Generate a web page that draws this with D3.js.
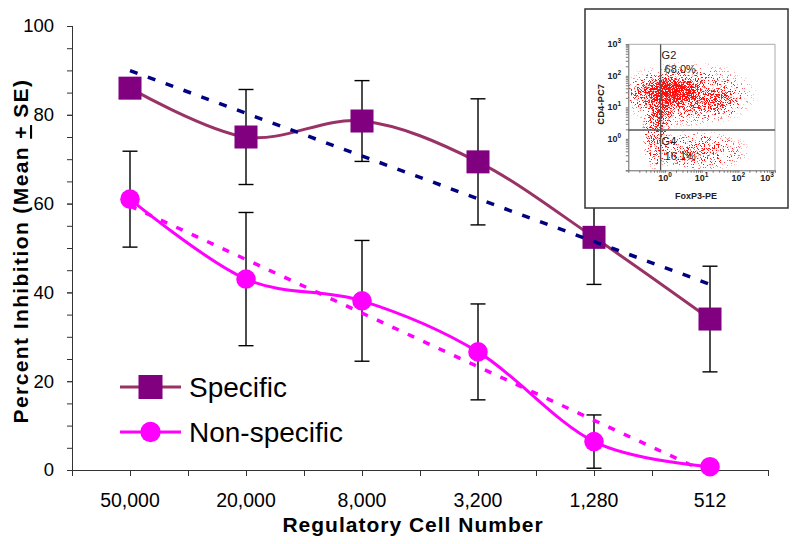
<!DOCTYPE html>
<html>
<head>
<meta charset="utf-8">
<script src="https://cdn.jsdelivr.net/npm/d3@7"></script>
<style>
  body { margin: 0; background: #fff; }
  svg { display: block; font-family: "Liberation Sans", Arial, sans-serif; }
</style>
</head>
<body>
<div id="chart"></div>
<script>
// ---- data ----
const categories = ["50,000", "20,000", "8,000", "3,200", "1,280", "512"];
const specificMean = [86, 75, 78.6, 69.4, 52.4, 34];
const specificSE = [1, 10.7, 9.1, 14.2, 10.6, 11.9];
const nonSpecificMean = [61, 43, 38.1, 26.6, 6.4, 0.75];
const nonSpecificSE = [10.8, 15, 13.6, 10.8, 6, 0.5];
const yTicks = [0, 20, 40, 60, 80, 100];

// inset flow plot (log10 decades)
const flowDecades = [0, 1, 2, 3];
const clusterFox = [0.15, 0.1, 0.6, 1.5, -0.25, 0.9, -0.1];
const clusterCD4 = [1.5, 1.45, 1.4, 1.2, 0.2, -0.4, 0.75];
const clusterFoxSpread = [0.8, 1.2, 2.0, 0.7, 0.4, 1.5, 0.4];
const clusterCD4Spread = [0.45, 0.7, 1.1, 0.5, 1.3, 0.7, 0.6];
const clusterDensity = [1.0, 0.8, 0.5, 0.5, 0.55, 0.45, 0.5];
const gateFox = 0.76;
const gateCD4 = 1.9;
const gateLabels = [{ name: "G2", pct: "68.0%" }, { name: "G4", pct: "16.1%" }];

const wSvg = 800, hSvg = 544;
const pLeft = 72, pRight = 768, pTop = 26, pBottom = 470;

const svg = d3.select("#chart").append("svg")
    .attr("width", wSvg)
    .attr("height", hSvg);

const defs = svg.append("defs");
defs.append("clipPath").attr("id", "plotClip")
    .append("rect")
    .attr("x", pLeft).attr("y", pTop)
    .attr("width", pRight - pLeft).attr("height", pBottom - pTop);

// Scales
const xScale = d3.scaleBand(categories, [pLeft, pRight]);
const xCenter = i => xScale(categories[i]) + xScale.bandwidth() / 2;
const yScale = d3.scaleLinear([0, 100], [pBottom, pTop]);

// Y axis: minor ticks every 5, labels every 20
svg.append("g")
    .attr("transform", `translate(${pLeft},0)`)
    .call(d3.axisLeft(yScale).tickValues(d3.range(0, 101, 5)).tickSize(5).tickFormat(""))
    .call(g => g.selectAll("line").attr("stroke", "#333"));
const yAxis = svg.append("g")
    .attr("transform", `translate(${pLeft},0)`)
    .call(d3.axisLeft(yScale).tickValues(yTicks).tickSize(5).tickPadding(13));
yAxis.selectAll("text").attr("font-size", 18.5).attr("fill", "#000")
    .attr("font-family", "Liberation Sans, Arial, sans-serif");
yAxis.selectAll("line").attr("stroke", "#333");
yAxis.select(".domain").attr("stroke", "#333");

// X axis: labels at band centres, ticks at every half band
const halfScale = d3.scaleLinear([0, categories.length], [pLeft, pRight]);
svg.append("g")
    .attr("transform", `translate(0,${pBottom})`)
    .call(d3.axisBottom(halfScale).tickValues(d3.range(0, categories.length + 0.01, 0.5)).tickSize(6).tickFormat("").tickSizeOuter(0))
    .call(g => g.selectAll("line").attr("stroke", "#333"))
    .call(g => g.select(".domain").attr("stroke", "#333"));
const xAxis = svg.append("g")
    .attr("transform", `translate(0,${pBottom})`)
    .call(d3.axisBottom(xScale).tickSize(0).tickPadding(23));
xAxis.select(".domain").remove();
xAxis.selectAll("text").attr("font-size", 19.5).attr("fill", "#000")
    .attr("font-family", "Liberation Sans, Arial, sans-serif");

// Axis titles
svg.append("text")
    .attr("x", 413).attr("y", 532)
    .attr("text-anchor", "middle")
    .attr("font-size", 21).attr("font-weight", "bold")
    .attr("letter-spacing", 1)
    .text("Regulatory Cell Number");

const yTitle = svg.append("text")
    .attr("transform", "translate(28,251) rotate(-90)")
    .attr("text-anchor", "middle")
    .attr("font-size", 21).attr("font-weight", "bold")
    .attr("letter-spacing", 1.4);
yTitle.append("tspan").text("Percent Inhibition (Mean  ");
yTitle.append("tspan").attr("text-decoration", "underline").text("+");
yTitle.append("tspan").text(" SE)");

const series = [
    { name: "Specific", mean: specificMean, se: specificSE, line: "#993366", marker: "#800080", trend: "#000080", shape: "square" },
    { name: "Non-specific", mean: nonSpecificMean, se: nonSpecificSE, line: "#ff00ff", marker: "#ff00ff", trend: "#ff00ff", shape: "circle" }
];

// Error bars
for (let s of series) {
    const eb = svg.append("g").attr("stroke", "#000").attr("stroke-width", 1.4);
    s.mean.forEach((m, i) => {
        const x = xCenter(i);
        const y1 = yScale(m + s.se[i]);
        const y2 = yScale(Math.max(0, m - s.se[i]));
        eb.append("line").attr("x1", x).attr("x2", x).attr("y1", y1).attr("y2", y2);
        eb.append("line").attr("x1", x - 7.5).attr("x2", x + 7.5).attr("y1", y1).attr("y2", y1);
        if (m - s.se[i] > 0) {
            eb.append("line").attr("x1", x - 7.5).attr("x2", x + 7.5).attr("y1", y2).attr("y2", y2);
        }
    });
}

// Smoothed lines
const smooth = d3.line()
    .x((d, i) => xCenter(i))
    .y(d => yScale(d))
    .curve(d3.curveCardinal.tension(0));
for (let s of series) {
    svg.append("path")
        .attr("d", smooth(s.mean))
        .attr("fill", "none")
        .attr("stroke", s.line)
        .attr("stroke-width", 3);
}

function drawMarker(g, shape, x, y, color, size) {
    if (shape === "square") {
        g.append("rect")
            .attr("x", x - size / 2).attr("y", y - size / 2)
            .attr("width", size).attr("height", size)
            .attr("fill", color);
    } else {
        g.append("circle")
            .attr("cx", x).attr("cy", y).attr("r", size / 2.35)
            .attr("fill", color);
    }
}

// Markers
for (let s of series) {
    const g = svg.append("g");
    s.mean.forEach((m, i) => drawMarker(g, s.shape, xCenter(i), yScale(m), s.marker, 23));
}

// Linear trend lines (least squares, like the spreadsheet's trendline)
function linearFit(values) {
    const n = values.length;
    const mx = d3.mean(d3.range(n));
    const my = d3.mean(values);
    let num = 0, den = 0;
    values.forEach((v, i) => { num += (i - mx) * (v - my); den += (i - mx) * (i - mx); });
    const slope = num / den;
    return i => my + slope * (i - mx);
}
const trendG = svg.append("g").attr("clip-path", "url(#plotClip)");
for (let s of series) {
    const fit = linearFit(s.mean);
    const last = s.mean.length - 1;
    trendG.append("line")
        .attr("x1", xCenter(0)).attr("y1", yScale(fit(0)))
        .attr("x2", xCenter(last)).attr("y2", yScale(fit(last)))
        .attr("stroke", s.trend)
        .attr("stroke-width", 3.5)
        .attr("stroke-dasharray", s.shape === "square" ? "8,11" : "7,10");
}

// Legend
const legend = svg.append("g");
series.forEach((s, i) => {
    const ly = 387 + i * 45;
    legend.append("line")
        .attr("x1", 120).attr("x2", 181).attr("y1", ly).attr("y2", ly)
        .attr("stroke", s.line).attr("stroke-width", 3);
    drawMarker(legend, s.shape, 150.5, ly, s.marker, 24);
    legend.append("text")
        .attr("x", 189).attr("y", ly + 9.5)
        .attr("font-size", 28)
        .text(s.name);
});

// ---- inset flow cytometry plot ----
const inset = svg.append("g");
inset.append("rect")
    .attr("x", 585).attr("y", 9).attr("width", 203).attr("height", 199)
    .attr("fill", "#fff").attr("stroke", "#333").attr("stroke-width", 1.5);

const fox = d3.scaleLog([0.1, 1000], [628.3, 775]);
const cd4 = d3.scaleLog([0.1, 1000], [170.3, 44.3]);

const [fx0, fx1] = fox.range();
const [cy0, cy1] = cd4.range();

defs.append("clipPath").attr("id", "flowClip")
    .append("rect").attr("x", fx0).attr("y", cy1).attr("width", fx1 - fx0).attr("height", cy0 - cy1);

const grad = defs.append("radialGradient").attr("id", "blob");
grad.append("stop").attr("offset", "0%").attr("stop-color", "#f00").attr("stop-opacity", 1);
grad.append("stop").attr("offset", "50%").attr("stop-color", "#f00").attr("stop-opacity", 0.6);
grad.append("stop").attr("offset", "100%").attr("stop-color", "#f00").attr("stop-opacity", 0);

const speck = defs.append("filter").attr("id", "speck")
    .attr("filterUnits", "userSpaceOnUse")
    .attr("x", fx0).attr("y", cy1).attr("width", fx1 - fx0).attr("height", cy0 - cy1)
    .attr("color-interpolation-filters", "sRGB");
speck.append("feTurbulence").attr("type", "fractalNoise").attr("baseFrequency", 1.3)
    .attr("numOctaves", 2).attr("seed", 11).attr("result", "noise");
speck.append("feColorMatrix").attr("in", "noise").attr("type", "matrix")
    .attr("values", "0 0 0 0 0  0 0 0 0 0  0 0 0 0 0  3 0 0 0 -0.95").attr("result", "na");
speck.append("feComposite").attr("in", "SourceGraphic").attr("in2", "na")
    .attr("operator", "arithmetic").attr("k1", 0).attr("k2", 1).attr("k3", -1).attr("k4", 0)
    .attr("result", "diff");
speck.append("feComponentTransfer").attr("in", "diff").attr("result", "mask")
    .append("feFuncA").attr("type", "linear").attr("slope", 5).attr("intercept", 0);
speck.append("feFlood").attr("flood-color", "#ff0d0d").attr("result", "red");
speck.append("feComposite").attr("in", "red").attr("in2", "mask").attr("operator", "in");

const cloud = inset.append("g")
    .attr("clip-path", "url(#flowClip)")
    .append("g")
    .attr("filter", "url(#speck)");
clusterFox.forEach((c, i) => {
    const cx = fox(Math.pow(10, c));
    const cy = cd4(Math.pow(10, clusterCD4[i]));
    cloud.append("ellipse")
        .attr("cx", cx).attr("cy", cy)
        .attr("rx", fox(Math.pow(10, c + clusterFoxSpread[i])) - cx)
        .attr("ry", cy - cd4(Math.pow(10, clusterCD4[i] + clusterCD4Spread[i])))
        .attr("fill", "url(#blob)")
        .attr("opacity", clusterDensity[i]);
});

// frame
inset.append("path")
    .attr("d", `M${fx0},${cy1}H${fx1}V${cy0}`)
    .attr("fill", "none").attr("stroke", "#aaa").attr("stroke-width", 1);
inset.append("g")
    .attr("transform", `translate(${fx0},0)`)
    .call(d3.axisLeft(cd4).tickValues(cd4.ticks()).tickSize(2.5).tickFormat(""))
    .call(g => g.selectAll("line").attr("stroke", "#777"))
    .call(g => g.select(".domain").attr("stroke", "#666"));
inset.append("g")
    .attr("transform", `translate(0,${cy0})`)
    .call(d3.axisBottom(fox).tickValues(fox.ticks()).tickSize(2.5).tickFormat("").tickSizeOuter(0))
    .call(g => g.selectAll("line").attr("stroke", "#777"))
    .call(g => g.select(".domain").attr("stroke", "#666"));

// gates
inset.append("line")
    .attr("x1", fox(gateFox)).attr("x2", fox(gateFox)).attr("y1", cy1).attr("y2", cy0)
    .attr("stroke", "#555").attr("stroke-width", 1.3);
inset.append("line")
    .attr("x1", fx0).attr("x2", fx1).attr("y1", cd4(gateCD4)).attr("y2", cd4(gateCD4))
    .attr("stroke", "#555").attr("stroke-width", 1.3);

// tick labels with superscripts
const flowLabel = (sel, d) => {
    sel.append("tspan").text("10");
    sel.append("tspan").attr("dy", -4).attr("font-size", 6.5).text(d);
};
flowDecades.forEach(d => {
    const ty = inset.append("text")
        .attr("x", fx0 - 14).attr("y", cd4(Math.pow(10, d)) + 3)
        .attr("text-anchor", "middle")
        .attr("font-size", 9).attr("font-weight", "bold").attr("fill", "#222");
    flowLabel(ty, d);
    const tx = inset.append("text")
        .attr("x", Math.min(fox(Math.pow(10, d)), 767)).attr("y", cy0 + 11)
        .attr("text-anchor", "middle")
        .attr("font-size", 9).attr("font-weight", "bold").attr("fill", "#222");
    flowLabel(tx, d);
});

inset.append("text")
    .attr("transform", `translate(604,${(cy0 + cy1) / 2 - 3}) rotate(-90)`)
    .attr("text-anchor", "middle")
    .attr("font-size", 9.5).attr("font-weight", "bold").attr("fill", "#222")
    .text("CD4-PC7");
inset.append("text")
    .attr("x", 696).attr("y", 199)
    .attr("text-anchor", "middle")
    .attr("font-size", 9).attr("font-weight", "bold").attr("fill", "#222")
    .text("FoxP3-PE");

gateLabels.forEach((gl, i) => {
    const base = i === 0 ? cy1 + 14.5 : cd4(gateCD4) + 15;
    inset.append("text")
        .attr("x", fox(gateFox) + 1).attr("y", base)
        .attr("font-size", 11).attr("fill", "#222")
        .text(gl.name);
    inset.append("text")
        .attr("x", fox(gateFox) + 4).attr("y", base + 14.5)
        .attr("font-size", 11).attr("fill", "#222")
        .text(gl.pct);
});
</script>
</body>
</html>
